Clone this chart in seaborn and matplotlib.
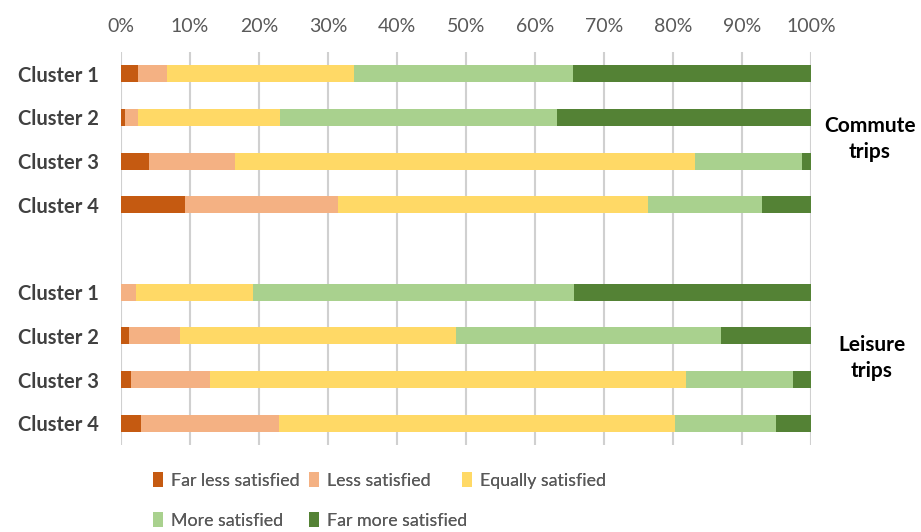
import matplotlib
matplotlib.use("Agg")
import matplotlib.pyplot as plt
from matplotlib.patches import Patch
import seaborn as sns
import pandas as pd
import numpy as np

# ---------------- data ----------------
levels = ["Far less satisfied", "Less satisfied", "Equally satisfied",
          "More satisfied", "Far more satisfied"]
colors = ["#C55A11", "#F4B183", "#FFD966", "#A9D18E", "#548235"]
clusters = ["Cluster 1", "Cluster 2", "Cluster 3", "Cluster 4"]

commute_far_less = [2.4, 0.6, 4.1, 9.3]
commute_less = [4.2, 1.8, 12.4, 22.1]
commute_equal = [27.2, 20.7, 66.6, 45.0]
commute_more = [31.6, 40.1, 15.5, 16.5]
commute_far_more = [34.6, 36.8, 1.4, 7.1]

leisure_far_less = [0.0, 1.2, 1.4, 2.9]
leisure_less = [2.2, 7.4, 11.5, 20.0]
leisure_equal = [16.9, 39.9, 68.9, 57.3]
leisure_more = [46.5, 38.4, 15.5, 14.6]
leisure_far_more = [34.4, 13.1, 2.7, 5.2]

groups = ["Commute\ntrips", "Leisure\ntrips"]
xticks = [0, 10, 20, 30, 40, 50, 60, 70, 80, 90, 100]
xtick_labels = ["0%", "10%", "20%", "30%", "40%", "50%", "60%", "70%", "80%", "90%", "100%"]

# ---------------- build table ----------------
rows = []
for grp, series in [("C", [commute_far_less, commute_less, commute_equal, commute_more, commute_far_more]),
                    ("L", [leisure_far_less, leisure_less, leisure_equal, leisure_more, leisure_far_more])]:
    for i, cl in enumerate(clusters):
        rec = {"key": f"{grp}{i}", "cluster": cl}
        for lv, s in zip(levels, series):
            rec[lv] = s[i]
        rows.append(rec)
df = pd.DataFrame(rows)
cum = df[levels].cumsum(axis=1)
for lv in levels:
    df["cum_" + lv] = cum[lv]

order = ["C0", "C1", "C2", "C3", "gap", "L0", "L1", "L2", "L3"]
ylabels = clusters + [""] + clusters

# ---------------- figure ----------------
sns.set_style("white")
plt.rcParams["font.family"] = ["Lato", "DejaVu Sans"]

fig = plt.figure(figsize=(9.21, 5.32), dpi=100)
ax = fig.add_axes([0.1314, 0.1635, 0.881 - 0.1314, 0.9023 - 0.1635])

for lv, col in reversed(list(zip(levels, colors))):
    sns.barplot(data=df, x="cum_" + lv, y="key", order=order, orient="h",
                color=col, width=0.39, saturation=1, ax=ax, linewidth=0,
                errorbar=None)

ax.set_xlim(0, 100)
ax.set_ylim(8.5, -0.5)
ax.set_xticks(xticks)
ax.set_xticklabels(xtick_labels)
ax.xaxis.tick_top()
ax.set_yticks(range(len(order)))
ax.set_yticklabels(ylabels)
ax.set_xlabel("")
ax.set_ylabel("")
ax.tick_params(axis="x", length=0, pad=12, labelsize=14, labelcolor="#595959")
ax.tick_params(axis="y", length=0, pad=16, labelsize=14.5, labelcolor="#404040")
for t in ax.get_yticklabels():
    t.set_fontweight("bold")
for s in ax.spines.values():
    s.set_visible(False)
ax.grid(axis="x", color="#D0D0D0", linewidth=1.5)
ax.grid(axis="y", visible=False)
ax.set_axisbelow(True)

# group annotations
fig.text(870 / 921, 1 - 139 / 532, groups[0], ha="center", va="center",
         fontsize=15, fontweight="bold", color="black", linespacing=1.4)
fig.text(872 / 921, 1 - 358 / 532, groups[1], ha="center", va="center",
         fontsize=15, fontweight="bold", color="black", linespacing=1.4)

# legend: three single-column legends placed like the original layout
handles = [Patch(facecolor=c, edgecolor="none") for c in colors]
columns = [[0, 3], [1, 4], [2]]
col_x = [153, 309, 462]
for cols, x0 in zip(columns, col_x):
    leg = fig.legend([handles[i] for i in cols], [levels[i] for i in cols], ncol=1,
                     loc="upper left", bbox_to_anchor=(x0 / 921, 1 - 472 / 532),
                     frameon=False, fontsize=12.8, labelcolor="#595959",
                     handlelength=0.55, handleheight=0.95, handletextpad=0.45,
                     labelspacing=1.3, borderpad=0, borderaxespad=0)
    fig.add_artist(leg)

fig.savefig("out.png", dpi=100)
